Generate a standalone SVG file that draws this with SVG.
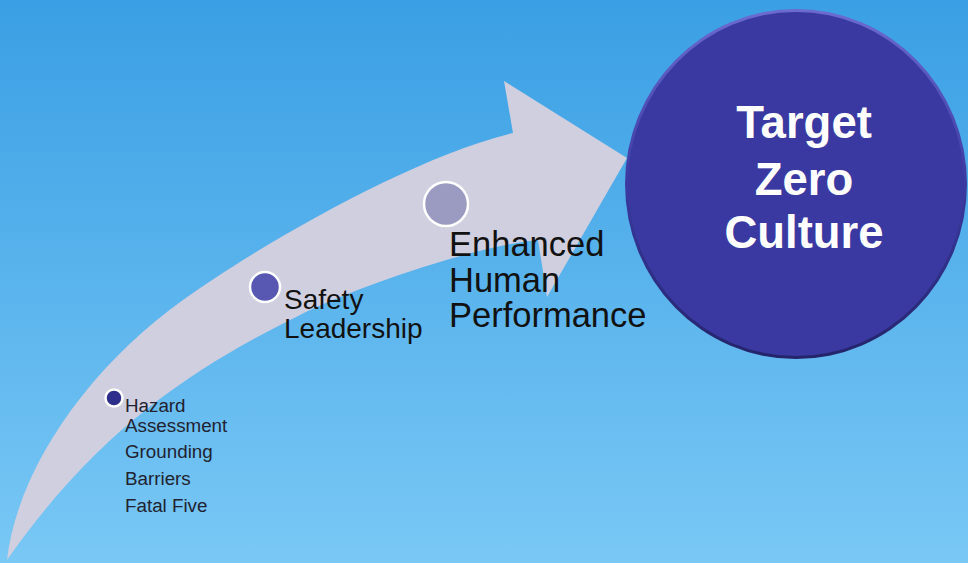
<svg xmlns="http://www.w3.org/2000/svg" width="968" height="563" viewBox="0 0 968 563">
  <defs>
    <linearGradient id="bg" x1="0" y1="0" x2="0" y2="1">
      <stop offset="0" stop-color="#3a9fe4"/>
      <stop offset="1" stop-color="#79c8f5"/>
    </linearGradient>
    <linearGradient id="rim" x1="0" y1="0" x2="0" y2="1">
      <stop offset="0" stop-color="#6b6bd0"/>
      <stop offset="0.5" stop-color="#3a3aa2"/>
      <stop offset="1" stop-color="#24246a"/>
    </linearGradient>
    <style>
      .lbl { font-family: "Liberation Sans", Arial, sans-serif; fill: #111; }
      .sub { font-family: "Liberation Sans", Arial, sans-serif; fill: #222230; font-size: 18.8px; }
      .dot { stroke: #ffffff; stroke-width: 2.5; }
      .goal { font-family: "Liberation Sans", Arial, sans-serif; font-weight: bold; fill: #ffffff; font-size: 45.5px; text-anchor: middle; }
    </style>
  </defs>
  <rect x="0" y="0" width="968" height="563" fill="url(#bg)"/>

  <g id="connectors">
    <path id="arrow" fill="#cfcfdf" d="M 7,560 C 18,465 93,364 183,300 C 260,245 410,158 513,133 L 504,81 L 627,158 L 547,297 L 538,240 C 480,245 360,285 300,315 C 197,366 100,427 7,560 Z"/>
  </g>

  <g id="node-hazard">
    <circle class="dot" cx="114" cy="398" r="8.5" fill="#2e2e8c"/>
    <text class="sub" x="125" y="412">Hazard</text>
    <text class="sub" x="125" y="432">Assessment</text>
    <text class="sub" x="125" y="458">Grounding</text>
    <text class="sub" x="125" y="485">Barriers</text>
    <text class="sub" x="125" y="512">Fatal Five</text>
  </g>

  <g id="node-safety">
    <circle class="dot" cx="265" cy="287" r="15" fill="#5858b2"/>
    <text class="lbl" x="284" y="309" font-size="28">Safety</text>
    <text class="lbl" x="284" y="338" font-size="28">Leadership</text>
  </g>

  <g id="node-enhanced">
    <circle class="dot" cx="446" cy="204" r="22" fill="#9b9bc2"/>
    <text class="lbl" x="449" y="256" font-size="34.5">Enhanced</text>
    <text class="lbl" x="449" y="292" font-size="34.5">Human</text>
    <text class="lbl" x="449" y="327" font-size="34.5">Performance</text>
  </g>

  <g id="node-target">
    <ellipse cx="796" cy="184" rx="171" ry="175" fill="url(#rim)"/>
    <ellipse cx="796" cy="184" rx="168" ry="172" fill="#3939a1"/>
    <text class="goal" x="804" y="138">Target</text>
    <text class="goal" x="804" y="195">Zero</text>
    <text class="goal" x="804" y="248">Culture</text>
  </g>
</svg>
